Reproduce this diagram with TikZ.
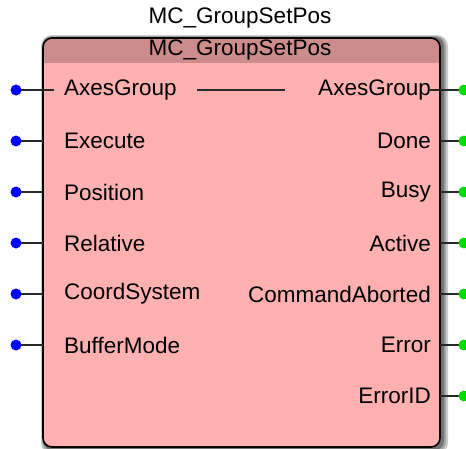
\documentclass[tikz,border=0pt]{standalone}
\usepackage{fontspec}
\setmainfont{Liberation Sans}
\definecolor{bodyfill}{RGB}{255,176,176}
\definecolor{headfill}{RGB}{204,140,140}
\definecolor{inpin}{RGB}{0,0,255}
\definecolor{outpin}{RGB}{0,220,0}
\definecolor{pinline}{RGB}{40,40,40}
\tikzset{
  lbl/.style={font=\fontsize{22.5}{26}\selectfont, inner sep=0pt, text=black},
  wire/.style={draw=pinline, line width=1.3pt},
  indot/.style={fill=inpin, draw=none},
  outdot/.style={fill=outpin, draw=none},
}
\begin{document}
\begin{tikzpicture}[x=1pt,y=-1pt]
\useasboundingbox (0,0) rectangle (466,448);
% shadow
\fill[black!20, rounded corners=11pt] (41,35) rectangle (448,454);
\fill[black!35, rounded corners=10pt] (42,36) rectangle (446,452);
\fill[black!55, rounded corners=9pt] (43,37) rectangle (444,450);
% box
\begin{scope}
\clip[rounded corners=9pt] (43,38) rectangle (440,447);
\fill[bodyfill] (43,38) rectangle (440,447);
\fill[headfill] (43,38) rectangle (440,63);
\end{scope}
\draw[black, line width=1.6pt, rounded corners=9pt] (43,38) rectangle (440,447);
% titles
\node[lbl] (title) at (240,18) {MC\_GroupSetPos};
\node[lbl] (head) at (240,50) {MC\_GroupSetPos};
% inputs
\foreach \name/\txt/\y in {i1/AxesGroup/90, i2/Execute/141, i3/Position/192, i4/Relative/243, i5/CoordSystem/294, i6/BufferMode/345}{
  \node[lbl, anchor=west] (\name) at (64,\y) {\txt};
  \coordinate (\name e) at (43,\y);
  \coordinate (\name d) at (16,\y);
  \draw[wire] (\name d) -- (\name e);
  \fill[indot] (\name d) circle [radius=5.5pt];
}
% outputs
\foreach \name/\txt/\y in {o1/AxesGroup/90, o2/Done/141, o3/Busy/192, o4/Active/243, o5/CommandAborted/294, o6/Error/345, o7/ErrorID/396}{
  \node[lbl, anchor=east] (\name) at (431,\y) {\txt};
  \coordinate (\name e) at (440,\y);
  \coordinate (\name d) at (464,\y);
  \draw[wire] (\name e) -- (\name d);
  \fill[outdot] (\name d) circle [radius=5.5pt];
}
% in-out extensions
\draw[wire] (i1e) -- ++(11,0);
\draw[wire] (o1e) -- ++(-10,0);
\draw[wire] (197,90) -- (285,90);
\end{tikzpicture}
\end{document}
